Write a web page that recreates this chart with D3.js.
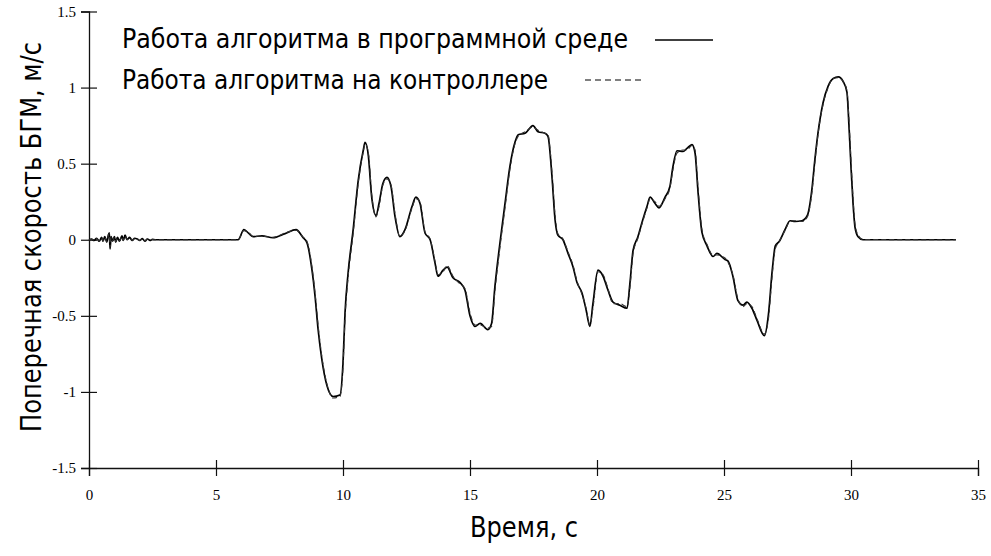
<!DOCTYPE html>
<html>
<head>
<meta charset="utf-8">
<script src="https://cdn.jsdelivr.net/npm/d3@7"></script>
<style>
  html, body { margin: 0; padding: 0; background: #fff; }
  svg { display: block; }
  .title { font-family: "DejaVu Sans Condensed", "DejaVu Sans", sans-serif; font-stretch: condensed; fill: #000; }
</style>
</head>
<body>
<svg id="chart" width="991" height="556"></svg>
<script>
// ---- data ----
const xTicks = [0, 5, 10, 15, 20, 25, 30, 35];
const yTicks = [-1.5, -1, -0.5, 0, 0.5, 1, 1.5];
const legendLabels = ["Работа алгоритма в программной среде", "Работа алгоритма на контроллере"];
const xTitle = "Время, с";
const yTitle = "Поперечная скорость БГМ, м/с";

// [time, velocity] — software run
const software = [
  [0,0],[0.1,0.005],[0.2,-0.005],[0.3,0.01],[0.4,-0.01],[0.5,0.015],[0.55,-0.01],[0.62,0.02],[0.7,-0.015],
  [0.76,0.03],[0.8,0.045],[0.83,-0.06],[0.87,0.02],[0.93,-0.01],[1.0,0.02],[1.05,-0.015],[1.12,0.015],
  [1.2,-0.01],[1.3,0.025],[1.35,-0.005],[1.42,0.03],[1.5,0],[1.6,0.015],[1.7,-0.005],[1.8,0.01],[1.9,0.005],
  [2.0,-0.005],[2.1,0.008],[2.2,-0.01],[2.3,0.005],[2.4,-0.004],[2.5,0.002],[2.6,0],
  [5.87,0],[6.1,0.066],[6.3,0.04],[6.46,0.02],[6.81,0.026],[7.24,0.013],[7.72,0.04],[8.15,0.066],[8.43,0.013],
  [8.58,-0.02],[8.78,-0.2],[8.9,-0.37],[9.02,-0.59],[9.17,-0.79],[9.37,-0.96],[9.61,-1.03],[9.88,-1.02],
  [10.0,-0.81],[10.08,-0.48],[10.2,-0.22],[10.4,0.066],[10.6,0.39],[10.8,0.59],[10.87,0.64],[11.0,0.55],
  [11.13,0.28],[11.3,0.16],[11.42,0.24],[11.57,0.37],[11.73,0.41],[11.89,0.35],[12.05,0.15],[12.24,0.02],
  [12.44,0.066],[12.72,0.22],[12.87,0.28],[13.03,0.24],[13.23,0.044],[13.43,0],[13.62,-0.15],[13.74,-0.24],
  [13.94,-0.2],[14.1,-0.18],[14.33,-0.25],[14.6,-0.28],[14.8,-0.33],[15.0,-0.5],[15.2,-0.57],[15.4,-0.55],
  [15.7,-0.59],[15.85,-0.55],[15.98,-0.31],[16.18,-0.02],[16.38,0.24],[16.57,0.48],[16.77,0.64],[16.9,0.69],
  [17.17,0.70],[17.48,0.75],[17.68,0.71],[17.95,0.70],[18.07,0.68],[18.23,0.41],[18.35,0.13],[18.46,0.03],
  [18.66,0],[18.86,-0.09],[19.06,-0.18],[19.21,-0.28],[19.41,-0.35],[19.57,-0.46],[19.72,-0.57],[19.84,-0.42],
  [20.04,-0.2],[20.24,-0.24],[20.43,-0.33],[20.63,-0.41],[20.9,-0.43],[21.18,-0.45],[21.3,-0.28],[21.42,-0.07],
  [21.61,0.02],[21.8,0.13],[21.97,0.22],[22.09,0.28],[22.28,0.24],[22.44,0.21],[22.68,0.28],[22.87,0.35],
  [22.99,0.48],[23.15,0.585],[23.39,0.58],[23.54,0.60],[23.74,0.625],[23.86,0.57],[23.98,0.31],[24.13,0.05],
  [24.33,-0.04],[24.57,-0.11],[24.72,-0.09],[25.04,-0.13],[25.16,-0.14],[25.35,-0.24],[25.55,-0.40],[25.75,-0.43],
  [25.9,-0.41],[26.1,-0.45],[26.3,-0.53],[26.59,-0.63],[26.75,-0.49],[26.9,-0.2],[27.02,-0.04],[27.18,-0.01],
  [27.4,0.066],[27.6,0.125],[27.8,0.12],[28.07,0.125],[28.28,0.16],[28.46,0.33],[28.58,0.53],[28.7,0.70],
  [28.9,0.90],[29.1,1.01],[29.3,1.06],[29.5,1.07],[29.69,1.04],[29.84,0.97],[29.92,0.75],[30.0,0.48],
  [30.08,0.24],[30.16,0.08],[30.28,0.02],[30.47,0],[34.13,0]
];

// [time, velocity] — controller run
const controller = [
  [0,0],[0.1,0.003],[0.2,-0.004],[0.3,0.008],[0.4,-0.008],[0.5,0.012],[0.55,-0.008],[0.62,0.016],[0.7,-0.012],
  [0.76,0.025],[0.8,0.04],[0.83,-0.05],[0.87,0.018],[0.93,-0.008],[1.0,0.016],[1.05,-0.012],[1.12,0.012],
  [1.2,-0.008],[1.3,0.02],[1.35,-0.004],[1.42,0.025],[1.5,0],[1.6,0.012],[1.7,-0.004],[1.8,0.008],[1.9,0.004],
  [2.0,-0.004],[2.1,0.006],[2.2,-0.008],[2.3,0.004],[2.4,-0.003],[2.5,0.001],[2.6,0],
  [5.87,0],[6.1,0.06],[6.3,0.045],[6.46,0.022],[6.81,0.024],[7.24,0.016],[7.72,0.045],[8.15,0.062],[8.43,0.018],
  [8.58,-0.01],[8.78,-0.18],[8.9,-0.35],[9.02,-0.56],[9.17,-0.77],[9.37,-0.95],[9.61,-1.04],[9.88,-1.03],
  [10.0,-0.84],[10.08,-0.52],[10.2,-0.25],[10.4,0.04],[10.6,0.37],[10.8,0.58],[10.87,0.63],[11.0,0.57],
  [11.13,0.30],[11.3,0.15],[11.42,0.22],[11.57,0.36],[11.73,0.40],[11.89,0.36],[12.05,0.17],[12.24,0.02],
  [12.44,0.06],[12.72,0.21],[12.87,0.27],[13.03,0.25],[13.23,0.05],[13.43,0.005],[13.62,-0.14],[13.74,-0.23],
  [13.94,-0.21],[14.1,-0.17],[14.33,-0.24],[14.6,-0.29],[14.8,-0.32],[15.0,-0.48],[15.2,-0.56],[15.4,-0.56],
  [15.7,-0.58],[15.85,-0.57],[15.98,-0.34],[16.18,-0.05],[16.38,0.21],[16.57,0.46],[16.77,0.63],[16.9,0.68],
  [17.17,0.71],[17.48,0.74],[17.68,0.72],[17.95,0.70],[18.07,0.69],[18.23,0.44],[18.35,0.16],[18.46,0.04],
  [18.66,0.005],[18.86,-0.08],[19.06,-0.17],[19.21,-0.27],[19.41,-0.36],[19.57,-0.45],[19.72,-0.56],[19.84,-0.45],
  [20.04,-0.21],[20.24,-0.23],[20.43,-0.32],[20.63,-0.42],[20.9,-0.42],[21.18,-0.44],[21.3,-0.31],[21.42,-0.09],
  [21.61,0.01],[21.8,0.12],[21.97,0.21],[22.09,0.27],[22.28,0.25],[22.44,0.22],[22.68,0.27],[22.87,0.34],
  [22.99,0.46],[23.15,0.57],[23.39,0.59],[23.54,0.59],[23.74,0.62],[23.86,0.59],[23.98,0.34],[24.13,0.07],
  [24.33,-0.03],[24.57,-0.10],[24.72,-0.10],[25.04,-0.12],[25.16,-0.15],[25.35,-0.23],[25.55,-0.39],[25.75,-0.44],
  [25.9,-0.42],[26.1,-0.44],[26.3,-0.52],[26.59,-0.62],[26.75,-0.52],[26.9,-0.23],[27.02,-0.06],[27.18,-0.01],
  [27.4,0.06],[27.6,0.12],[27.8,0.125],[28.07,0.12],[28.28,0.15],[28.46,0.31],[28.58,0.51],[28.7,0.69],
  [28.9,0.89],[29.1,1.00],[29.3,1.06],[29.5,1.065],[29.69,1.04],[29.84,0.98],[29.92,0.79],[30.0,0.52],
  [30.08,0.28],[30.16,0.10],[30.28,0.03],[30.47,0.002],[34.13,0]
];

// ---- drawing ----
const svg = d3.select("#chart");
const x = d3.scaleLinear().domain([0, 35]).range([89, 978]);
const y = d3.scaleLinear().domain([-1.5, 1.5]).range([468, 11.5]);
const serif = "'Liberation Serif', 'Times New Roman', 'DejaVu Serif', serif";

// x axis
const gx = svg.append("g").attr("transform", `translate(0,${y(-1.5)})`)
  .call(d3.axisBottom(x).tickValues(xTicks).tickSizeOuter(0).tickSize(8).tickFormat(d => String(d)))
  .attr("font-family", serif).attr("font-size", 15);
gx.select(".domain").attr("stroke", "#111").attr("stroke-width", 1.3);
gx.selectAll(".tick line").attr("y1", -8).attr("y2", 8).attr("stroke", "#111").attr("stroke-width", 1.2);
gx.selectAll(".tick text").attr("y", 21).attr("fill", "#000");

// y axis
const gy = svg.append("g").attr("transform", `translate(${x(0)},0)`)
  .call(d3.axisLeft(y).tickValues(yTicks).tickSizeOuter(0).tickSize(8).tickFormat(d => String(d)))
  .attr("font-family", serif).attr("font-size", 15);
gy.select(".domain").attr("stroke", "#111").attr("stroke-width", 1.3);
gy.selectAll(".tick line").attr("x1", -8).attr("x2", 8).attr("stroke", "#111").attr("stroke-width", 1.2);
gy.selectAll(".tick text").attr("x", -13).attr("fill", "#000");

// lines
const line = d3.line().x(d => x(d[0])).y(d => y(d[1])).curve(d3.curveMonotoneX);
svg.append("path").datum(software).attr("d", line)
  .attr("fill", "none").attr("stroke", "#000").attr("stroke-width", 1.7);
svg.append("path").datum(controller).attr("d", line)
  .attr("fill", "none").attr("stroke", "#333").attr("stroke-width", 1.1).attr("stroke-dasharray", "5,3");

// legend
const leg = svg.append("g");
leg.append("text").attr("class", "title").attr("x", 122).attr("y", 48)
  .attr("font-size", 26).attr("textLength", 506).attr("lengthAdjust", "spacingAndGlyphs").text(legendLabels[0]);
leg.append("line").attr("x1", 655).attr("x2", 713).attr("y1", 40).attr("y2", 40)
  .attr("stroke", "#000").attr("stroke-width", 1.3);
leg.append("text").attr("class", "title").attr("x", 122).attr("y", 89)
  .attr("font-size", 26).attr("textLength", 426).attr("lengthAdjust", "spacingAndGlyphs").text(legendLabels[1]);
leg.append("line").attr("x1", 585).attr("x2", 645).attr("y1", 80).attr("y2", 80)
  .attr("stroke", "#000").attr("stroke-width", 1.2).attr("stroke-dasharray", "6,4");

// axis titles
svg.append("text").attr("class", "title").attr("x", 524).attr("y", 537)
  .attr("text-anchor", "middle").attr("font-size", 28)
  .attr("textLength", 108).attr("lengthAdjust", "spacingAndGlyphs").text(xTitle);
svg.append("text").attr("class", "title")
  .attr("transform", `translate(41,237) rotate(-90)`)
  .attr("text-anchor", "middle").attr("font-size", 29)
  .attr("textLength", 390).attr("lengthAdjust", "spacingAndGlyphs").text(yTitle);
</script>
</body>
</html>
